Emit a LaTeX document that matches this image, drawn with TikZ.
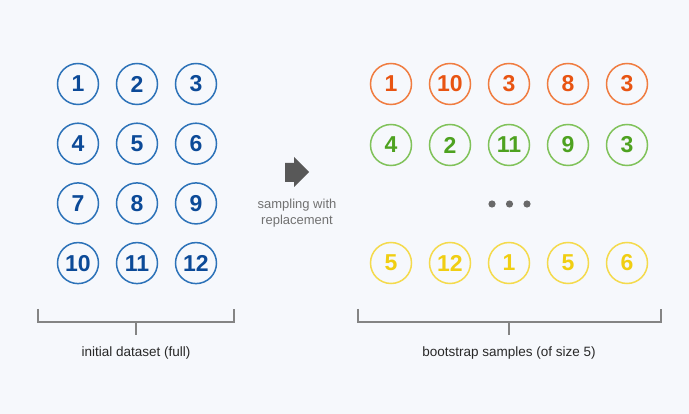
\documentclass[tikz,border=0pt]{standalone}
\usepackage{fontspec}
\setmainfont{Liberation Sans}
\usepackage{tikz}
\usetikzlibrary{positioning}
\definecolor{bsback}{RGB}{246,248,252}
\definecolor{bsblue}{RGB}{12,74,152}
\definecolor{bsblueline}{RGB}{44,114,184}
\definecolor{bsorange}{RGB}{232,84,18}
\definecolor{bsorangeline}{RGB}{240,124,64}
\definecolor{bsgreen}{RGB}{78,162,32}
\definecolor{bsgreenline}{RGB}{128,194,90}
\definecolor{bsyellow}{RGB}{240,206,18}
\definecolor{bsyellowline}{RGB}{244,218,76}
\definecolor{bsgray}{RGB}{88,88,88}
\definecolor{bsbracket}{RGB}{132,132,132}
\definecolor{bstext}{RGB}{40,40,40}

\tikzset{
  ball/.style={circle, draw, line width=1.5pt, minimum size=41pt, inner sep=0pt,
               font=\fontsize{23}{23}\selectfont\bfseries},
  blueball/.style={ball, draw=bsblueline, text=bsblue},
  orangeball/.style={ball, draw=bsorangeline, text=bsorange},
  greenball/.style={ball, draw=bsgreenline, text=bsgreen},
  yellowball/.style={ball, draw=bsyellowline, text=bsyellow},
  brace/.style={draw=bsbracket, line width=1.1pt},
  caption/.style={text=bstext, font=\fontsize{13.5}{16}\selectfont}
}

\begin{document}
\begin{tikzpicture}[x=1pt, y=-1pt]
    \fill[bsback] (0,0) rectangle (689,414);

    % initial dataset
    \foreach \n in {1,...,12} {
        \pgfmathtruncatemacro\col{mod(\n-1,3)}
        \pgfmathtruncatemacro\row{(\n-1)/3}
        \node[blueball] (d\n) at ({78+59*\col},{84+59.7*\row}) {\n};
    }

    % sampling arrow
    \fill[bsgray] (285,163) -- (294,163) -- (294,157) -- (309,172)
        -- (294,187) -- (294,182) -- (285,182) -- cycle;
    \node[text=bsgray!85, font=\fontsize{13}{16}\selectfont, align=center]
        (sampling) at (297,213) {sampling with\\replacement};

    % bootstrap samples
    \foreach \v [count=\c] in {1,10,3,8,3}
        \node[orangeball] (a\c) at ({391+59*(\c-1)},84) {\v};
    \foreach \v [count=\c] in {4,2,11,9,3}
        \node[greenball] (b\c) at ({391+59*(\c-1)},145) {\v};
    \foreach \v [count=\c] in {5,12,1,5,6}
        \node[yellowball] (e\c) at ({391+59*(\c-1)},263) {\v};
    \foreach \x in {492,509.5,527}
        \fill[bsgray!90] (\x,204) circle (3.6);

    % brackets
    \node[caption] (initial) at (136,353) {initial dataset (full)};
    \node[caption] (samples) at (509,353) {bootstrap samples (of size 5)};
    \coordinate (ltop) at (136,322);
    \coordinate (rtop) at (509,322);
    \draw[brace] (38,309) |- (234,322) -- (234,309);
    \draw[brace] (ltop) -- (136,335);
    \draw[brace] (358,309) |- (661,322) -- (661,309);
    \draw[brace] (rtop) -- (509,335);
\end{tikzpicture}
\end{document}
